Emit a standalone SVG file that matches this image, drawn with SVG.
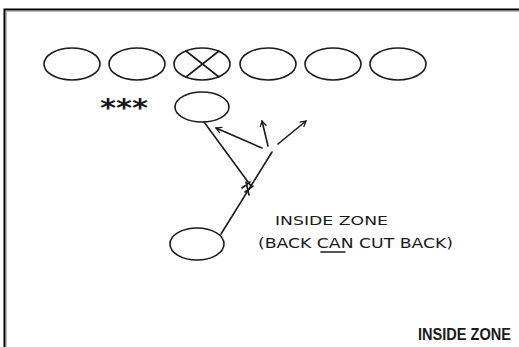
<svg xmlns="http://www.w3.org/2000/svg" width="519" height="347" viewBox="0 0 519 347">
<defs>
<style>
.o{fill:none;stroke:#1a1a1a;stroke-width:1.6}
.l{fill:none;stroke:#1a1a1a;stroke-width:1.6;stroke-linecap:round;stroke-linejoin:round}
.h{font-family:"DejaVu Sans","Liberation Sans",sans-serif;fill:#1a1a1a}
</style>
<marker id="ah" viewBox="0 0 10 10" refX="8" refY="5" markerWidth="8" markerHeight="8" orient="auto" markerUnits="userSpaceOnUse">
<path d="M1,1 L8,5 L1,9" fill="none" stroke="#1a1a1a" stroke-width="1.6"/>
</marker>
</defs>
<rect width="519" height="347" fill="#ffffff"/>
<g id="frame">
<path d="M4.5,347 V9.5 H519" fill="none" stroke="#000" stroke-width="2"/>
<path d="M6.5,347 V11.5 H519" fill="none" stroke="#bbb" stroke-width="1"/>
</g>
<g id="lineman1"><ellipse class="o" cx="72" cy="64" rx="28" ry="16"/></g>
<g id="lineman2"><ellipse class="o" cx="137" cy="64" rx="28" ry="16"/></g>
<g id="center"><ellipse class="o" cx="202" cy="64" rx="28" ry="16"/>
<path class="l" d="M186,51 L219,77 M219,51 L186,77"/></g>
<g id="lineman4"><ellipse class="o" cx="268" cy="64" rx="28" ry="16"/></g>
<g id="lineman5"><ellipse class="o" cx="333" cy="64" rx="28" ry="16"/></g>
<g id="lineman6"><ellipse class="o" cx="398" cy="64" rx="28" ry="16"/></g>
<g id="stars"><text class="h" x="100" y="116" font-size="24" font-weight="bold" textLength="48" lengthAdjust="spacingAndGlyphs">***</text></g>
<g id="qb"><ellipse class="o" cx="202" cy="107" rx="27" ry="15"/></g>
<g id="rb"><ellipse class="o" cx="197" cy="244" rx="27" ry="16"/></g>
<g id="connectors">
<path class="l" d="M204,122 L251,186"/>
<path class="l" d="M221,234 L272,152"/>
<path class="l" d="M242,188 L250,182 M245,192 L253,186 M246,182 L249,195"/>
<path class="l" d="M262,148 L216,128" marker-end="url(#ah)"/>
<path class="l" d="M268,146 L262,121" marker-end="url(#ah)"/>
<path class="l" d="M278,144 L306,121" marker-end="url(#ah)"/>
</g>
<g id="label">
<text class="h" x="275" y="225" font-size="12" textLength="113" lengthAdjust="spacingAndGlyphs">INSIDE ZONE</text>
<text class="h" x="258" y="248" font-size="14" textLength="195" lengthAdjust="spacingAndGlyphs">(BACK CAN CUT BACK)</text>
<path class="l" d="M321,252 L345,252" stroke-width="1.3"/>
</g>
<g id="title"><text x="418" y="340" font-family="'Liberation Sans',sans-serif" font-size="17" font-weight="bold" fill="#1a1a1a" textLength="93" lengthAdjust="spacingAndGlyphs">INSIDE ZONE</text></g>
</svg>
